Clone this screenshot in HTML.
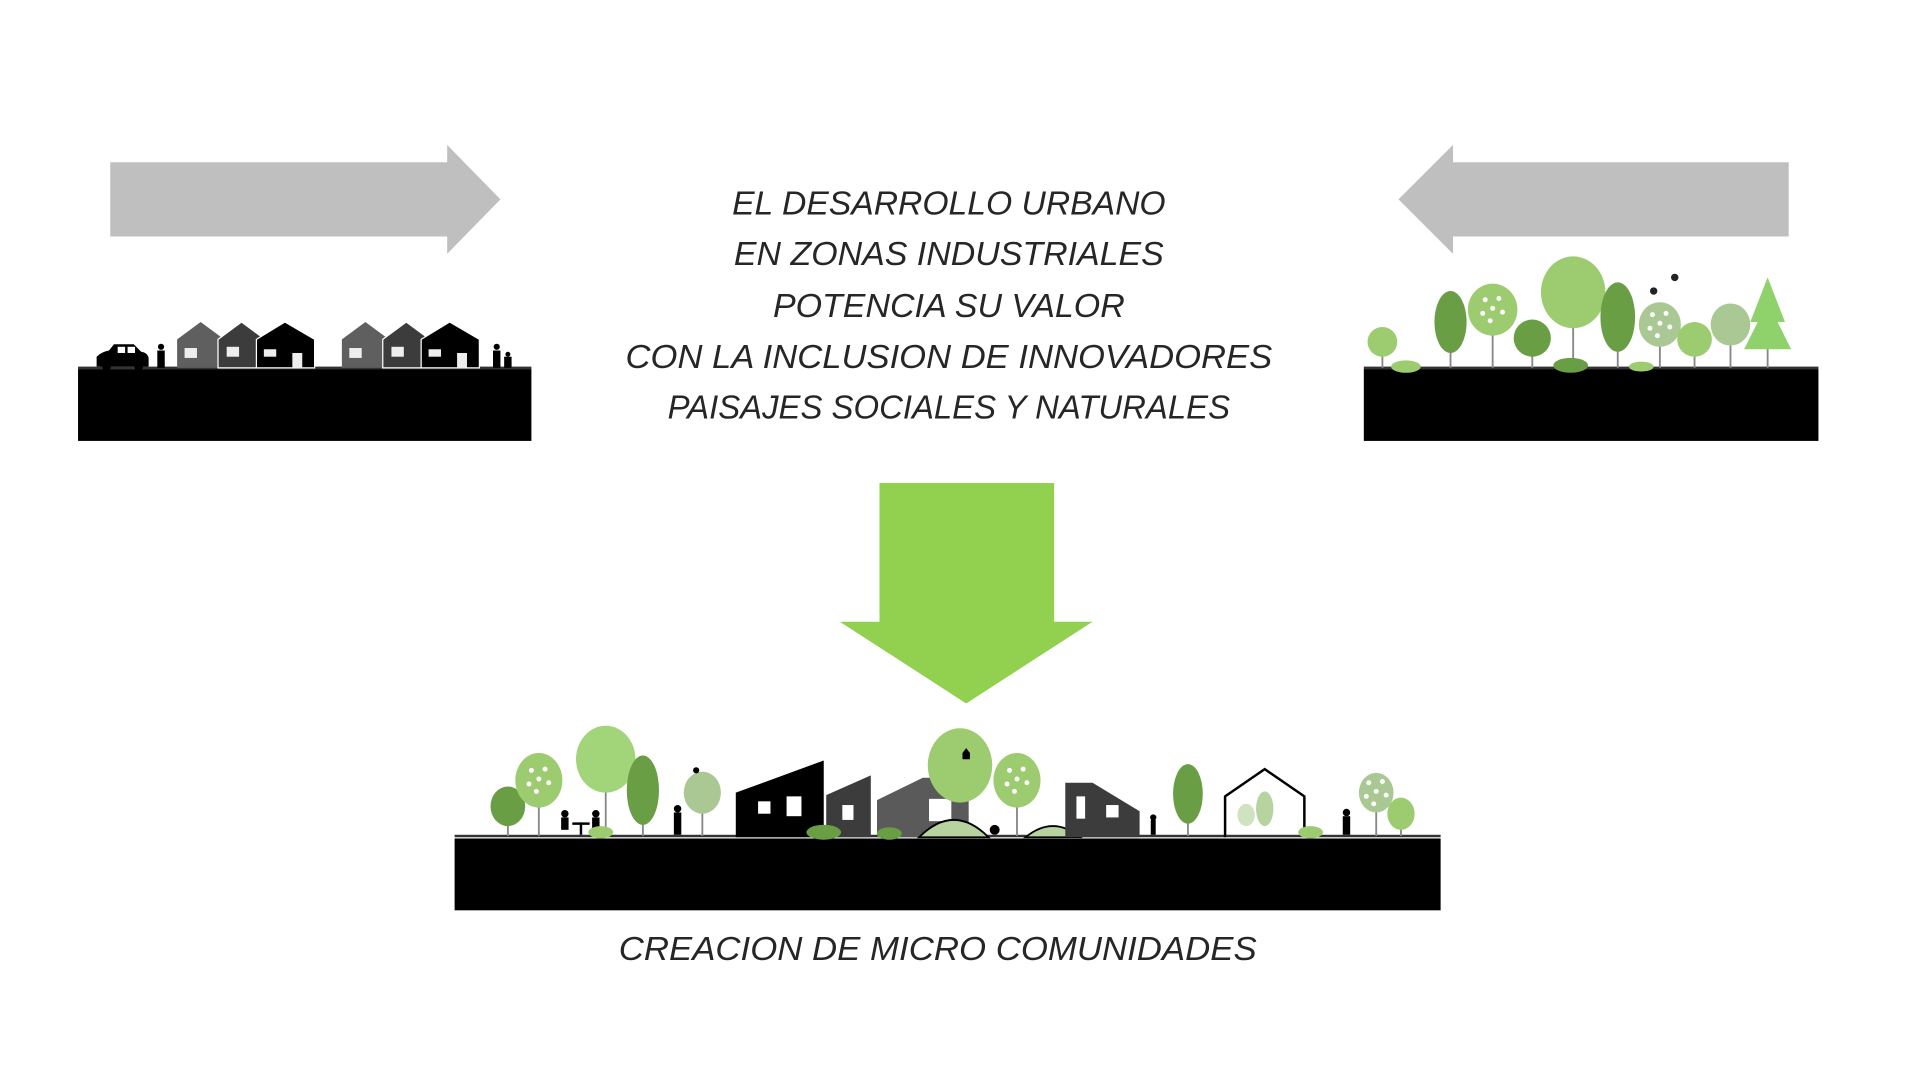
<!DOCTYPE html>
<html><head><meta charset="utf-8"><style>
html,body{margin:0;padding:0;background:#fff;width:1920px;height:1080px;overflow:hidden}
svg{display:block}
text{font-family:"Liberation Sans",sans-serif;font-style:italic;fill:#262626;font-size:27px}
</style></head><body>
<svg width="1920" height="1080" viewBox="0 0 1550 872" preserveAspectRatio="none">
<defs>
<g id="dots" fill="#fff"><circle cx="-6" cy="-8" r="2"/><circle cx="5" cy="-9" r="2"/><circle cx="0" cy="-1" r="2"/><circle cx="-8" cy="3" r="2"/><circle cx="8" cy="2" r="2"/><circle cx="-2" cy="9" r="2"/></g>
</defs>
<!-- grey arrows -->
<polygon points="89,131 361,131 361,117 404,161 361,205 361,191 89,191" fill="#bfbfbf"/>
<polygon points="1444,131 1173,131 1173,117 1129,161 1173,205 1173,191 1444,191" fill="#bfbfbf"/>
<!-- green arrow -->
<polygon points="710,390 851,390 851,502 882,502 780,568 678,502 710,502" fill="#92d050"/>
<!-- text -->
<g text-anchor="middle">
<text x="766" y="173" textLength="350" lengthAdjust="spacingAndGlyphs">EL DESARROLLO URBANO</text>
<text x="766" y="214" textLength="347" lengthAdjust="spacingAndGlyphs">EN ZONAS INDUSTRIALES</text>
<text x="766" y="256" textLength="284" lengthAdjust="spacingAndGlyphs">POTENCIA SU VALOR</text>
<text x="766" y="297" textLength="522" lengthAdjust="spacingAndGlyphs">CON LA INCLUSION DE INNOVADORES</text>
<text x="766" y="338" textLength="454" lengthAdjust="spacingAndGlyphs">PAISAJES SOCIALES Y NATURALES</text>
<text x="757" y="775" textLength="515" lengthAdjust="spacingAndGlyphs">CREACION DE MICRO COMUNIDADES</text>
</g>
<!-- left scene -->
<rect x="63" y="298" width="366" height="58" fill="#000"/>
<rect x="63" y="296" width="366" height="2" fill="#333"/>
<path d="M78,296 L78,288 Q82,284 88,283 L92,278 L108,278 L114,284 Q120,285 120,290 L120,296 Z" fill="#000"/>
<rect x="95" y="280" width="6" height="5" fill="#fff"/><rect x="103" y="280" width="6" height="5" fill="#fff"/>
<circle cx="86" cy="296" r="3.5" fill="#000"/><circle cx="112" cy="296" r="3.5" fill="#000"/>
<circle cx="130" cy="280" r="2.5" fill="#000"/><rect x="127" y="283" width="6" height="14" fill="#000"/>
<circle cx="401" cy="280" r="2.5" fill="#000"/><rect x="398" y="283" width="6" height="14" fill="#000"/>
<circle cx="410" cy="286" r="2" fill="#000"/><rect x="407" y="288" width="6" height="9" fill="#000"/>
<g id="hs">
<polygon points="143,274 162,260 181,274 181,297 143,297" fill="#5f5f5f"/>
<rect x="149" y="281" width="10" height="8" fill="#eee"/>
<polygon points="176,274 195,260 214,274 214,297 176,297" fill="#3c3c3c" stroke="#fff" stroke-width="1"/>
<rect x="183" y="280" width="10" height="8" fill="#eee"/>
<polygon points="207,274 230,260 254,274 254,297 207,297" fill="#000" stroke="#fff" stroke-width="1"/>
<rect x="213" y="282" width="10" height="6" fill="#eee"/><rect x="236" y="285" width="8" height="12" fill="#eee"/>
</g>
<use href="#hs" x="133"/>
<!-- right scene -->
<rect x="1101" y="298" width="367" height="58" fill="#000"/>
<rect x="1101" y="296" width="367" height="2" fill="#333"/>
<g stroke="#888" stroke-width="1.5">
<line x1="1116" y1="280" x2="1116" y2="297"/><line x1="1171" y1="270" x2="1171" y2="297"/><line x1="1205" y1="260" x2="1205" y2="297"/><line x1="1237" y1="280" x2="1237" y2="297"/><line x1="1270" y1="250" x2="1270" y2="297"/><line x1="1306" y1="270" x2="1306" y2="297"/><line x1="1340" y1="270" x2="1340" y2="297"/><line x1="1368" y1="280" x2="1368" y2="297"/><line x1="1397" y1="270" x2="1397" y2="297"/><line x1="1427" y1="280" x2="1427" y2="297"/>
</g>
<ellipse cx="1116" cy="276" rx="12" ry="12" fill="#9dcb6f"/>
<ellipse cx="1171" cy="260" rx="13" ry="25" fill="#6a9e45"/>
<ellipse cx="1205" cy="250" rx="20" ry="21" fill="#9dcb6f"/><use href="#dots" x="1205" y="250"/>
<ellipse cx="1237" cy="273" rx="15" ry="15" fill="#6a9e45"/>
<ellipse cx="1270" cy="236" rx="26" ry="29" fill="#9dcb6f"/>
<ellipse cx="1306" cy="256" rx="14" ry="28" fill="#6a9e45"/>
<ellipse cx="1340" cy="262" rx="17" ry="18" fill="#a9c894"/><use href="#dots" x="1340" y="262"/>
<ellipse cx="1368" cy="274" rx="14" ry="14" fill="#9dcb6f"/>
<ellipse cx="1397" cy="262" rx="16" ry="17" fill="#a9c894"/>
<polygon points="1427,224 1441,260 1435,260 1446,282 1408,282 1419,260 1413,260" fill="#8fd16a"/>
<ellipse cx="1135" cy="296" rx="12" ry="5" fill="#9dcb6f"/><ellipse cx="1268" cy="295" rx="14" ry="6" fill="#6a9e45"/><ellipse cx="1325" cy="296" rx="10" ry="4" fill="#9dcb6f"/>
<circle cx="1335" cy="235" r="3" fill="#222"/><circle cx="1352" cy="224" r="3" fill="#222"/>
<!-- bottom scene -->
<rect x="367" y="677" width="796" height="58" fill="#000"/>
<rect x="367" y="674" width="796" height="2" fill="#333"/>
<g stroke="#888" stroke-width="1.5">
<line x1="410" y1="660" x2="410" y2="675"/><line x1="435" y1="640" x2="435" y2="675"/><line x1="489" y1="630" x2="489" y2="675"/><line x1="519" y1="650" x2="519" y2="675"/><line x1="567" y1="650" x2="567" y2="675"/><line x1="821" y1="640" x2="821" y2="675"/><line x1="959" y1="650" x2="959" y2="675"/><line x1="1111" y1="650" x2="1111" y2="675"/><line x1="1131" y1="660" x2="1131" y2="675"/>
</g>
<ellipse cx="410" cy="651" rx="14" ry="16" fill="#6a9e45"/>
<ellipse cx="435" cy="630" rx="19" ry="22" fill="#9dcb6f"/><use href="#dots" x="435" y="630"/>
<ellipse cx="489" cy="613" rx="24" ry="27" fill="#a2d47a"/>
<ellipse cx="519" cy="638" rx="13" ry="28" fill="#6a9e45"/>
<ellipse cx="567" cy="640" rx="15" ry="17" fill="#a9c894"/>
<g fill="#000"><circle cx="456" cy="657" r="3"/><rect x="453" y="660" width="6" height="10"/><circle cx="481" cy="657" r="3"/><rect x="478" y="660" width="6" height="10"/><rect x="462" y="664" width="14" height="2"/><rect x="468" y="664" width="2" height="10"/>
<circle cx="547" cy="653" r="3"/><rect x="544" y="656" width="6" height="18"/><circle cx="562" cy="622" r="2.5"/></g>
<polygon points="594,640 665,614 665,676 594,676" fill="#000"/>
<rect x="612" y="647" width="10" height="10" fill="#fff"/><rect x="635" y="643" width="12" height="16" fill="#fff"/>
<polygon points="667,642 703,626 703,676 667,676" fill="#3c3c3c"/><rect x="680" y="650" width="9" height="12" fill="#fff"/>
<polygon points="708,646 745,628 782,628 782,676 708,676" fill="#5a5a5a"/><rect x="750" y="645" width="18" height="18" fill="#fff"/>
<ellipse cx="775" cy="618" rx="26" ry="30" fill="#9dcb6f"/><path d="M777,608 l3,-4 l3,4 v5 h-6z" fill="#000"/>
<ellipse cx="821" cy="630" rx="19" ry="22" fill="#9dcb6f"/><use href="#dots" x="821" y="630"/>
<path d="M742,676 Q770,648 798,676 Z" fill="#b6d3a0" stroke="#000" stroke-width="1.5"/>
<path d="M828,676 Q850,658 872,676 Z" fill="#b6d3a0" stroke="#000" stroke-width="1.5"/>
<polygon points="860,632 882,632 920,655 920,676 860,676" fill="#3c3c3c"/><rect x="869" y="643" width="7" height="18" fill="#fff"/><rect x="893" y="650" width="10" height="10" fill="#fff"/>
<ellipse cx="959" cy="641" rx="12" ry="24" fill="#6a9e45"/>
<polyline points="989,676 989,643 1021,621 1053,643 1053,676" fill="none" stroke="#000" stroke-width="2"/>
<ellipse cx="1021" cy="653" rx="7" ry="14" fill="#b6d3a0"/><ellipse cx="1006" cy="658" rx="7" ry="9" fill="#cfe3c0"/>
<ellipse cx="1111" cy="640" rx="14" ry="16" fill="#a9c894"/><use href="#dots" x="1111" y="640"/>
<ellipse cx="1131" cy="657" rx="11" ry="13" fill="#9dcb6f"/>
<ellipse cx="665" cy="672" rx="14" ry="6" fill="#6a9e45"/><ellipse cx="718" cy="673" rx="10" ry="5" fill="#6a9e45"/><ellipse cx="1058" cy="672" rx="10" ry="5" fill="#9dcb6f"/><ellipse cx="485" cy="672" rx="10" ry="5" fill="#9dcb6f"/>
<g fill="#000"><circle cx="1087" cy="656" r="3"/><rect x="1084" y="659" width="6" height="15"/><circle cx="931" cy="660" r="2.5"/><rect x="929" y="662" width="4" height="12"/><circle cx="803" cy="670" r="4"/></g>
</svg>
</body></html>
